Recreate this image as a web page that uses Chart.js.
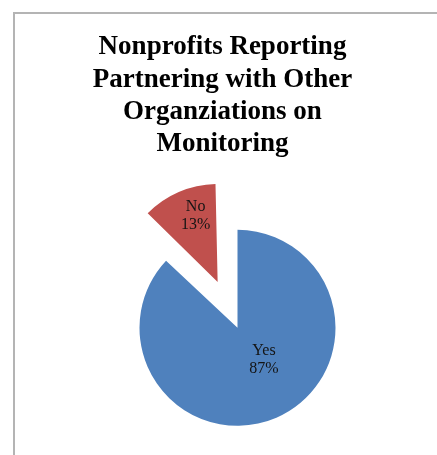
<!DOCTYPE html>
<html lang="en">
  <head>
    <meta charset="UTF-8" />
    <title>Nonprofits Reporting Partnering with Other Organizations on Monitoring</title>
    <style>
      body,
      html {
        margin: 0;
        background: #fff;
        overflow: hidden;
      }
      .frame {
        position: absolute;
        left: 13px;
        top: 12px;
        right: 0;
        bottom: 0;
        border-top: 2px solid #b4b4b4;
        border-left: 2px solid #b4b4b4;
      }
      #pie {
        position: absolute;
        left: 4px;
        top: 0;
      }
    </style>
  </head>
  <body>
    <div class="frame"></div>
    <canvas id="pie" width="437" height="455"></canvas>

    <script src="https://cdn.jsdelivr.net/npm/chart.js"></script>

    <script>
      const answers = ["Yes", "No"];
      const shares = [87, 13];
      const sliceColors = ["#4f81bd", "#c0504d"];
      // how far each slice is pulled out of the pie, in pixels
      const explode = [0, 50];
      const pieRadius = 98;

      const titleLines = [
        "Nonprofits Reporting",
        "Partnering with Other",
        "Organziations on",
        "Monitoring",
      ];

      // where the category/percent label sits in each slice
      const labelRadius = [0.45, 0.72];
      const labelNudge = [
        [9, -8],
        [6, -1],
      ];

      // pie sits a bit right of the title
      const shiftPie = {
        id: "shiftPie",
        afterLayout(chart) {
          chart.chartArea.left += 15;
          chart.chartArea.right += 15;
        },
      };

      // Chart.js grows an offset arc a little; pull it back to the pie radius
      const keepRadius = {
        id: "keepRadius",
        afterDatasetUpdate(chart, args) {
          args.meta.data.forEach((arc, i) => {
            const sweep = arc.endAngle - arc.startAngle;
            const fix = 1 - Math.sin(Math.min(Math.PI, sweep));
            arc.outerRadius = pieRadius - explode[i] * fix;
          });
        },
      };

      // draws "Yes / 87%" style labels inside the slices
      const sliceLabels = {
        id: "sliceLabels",
        afterDatasetsDraw(chart) {
          const ctx = chart.ctx;
          const meta = chart.getDatasetMeta(0);
          const ds = chart.data.datasets[0];
          ctx.save();
          ctx.font = "16px 'Liberation Serif'";
          ctx.fillStyle = "#141414";
          ctx.textAlign = "center";
          ctx.textBaseline = "middle";
          meta.data.forEach((arc, i) => {
            const mid = (arc.startAngle + arc.endAngle) / 2;
            const r = explode[i] + pieRadius * labelRadius[i];
            const x = arc.x + Math.cos(mid) * r + labelNudge[i][0];
            const y = arc.y + Math.sin(mid) * r + labelNudge[i][1];
            ctx.fillText(chart.data.labels[i], x, y - 9);
            ctx.fillText(ds.data[i] + "%", x, y + 9);
          });
          ctx.restore();
        },
      };

      const ctx = document.getElementById("pie").getContext("2d");

      new Chart(ctx, {
        type: "pie",
        data: {
          labels: answers,
          datasets: [
            {
              data: shares,
              backgroundColor: sliceColors,
              borderWidth: 0,
              // the arc is translated by a quarter of its offset
              offset: explode.map((px) => px * 4),
            },
          ],
        },
        options: {
          responsive: false,
          animation: false,
          radius: pieRadius,
          layout: {
            padding: 0,
          },
          plugins: {
            legend: { display: false },
            tooltip: { enabled: false },
            title: {
              display: true,
              text: titleLines,
              color: "#000",
              font: {
                family: "'Liberation Serif'",
                size: 27,
                weight: "bold",
                lineHeight: 1.2,
              },
              padding: { top: 31, bottom: 40 },
            },
          },
        },
        plugins: [shiftPie, keepRadius, sliceLabels],
      });
    </script>
  </body>
</html>
